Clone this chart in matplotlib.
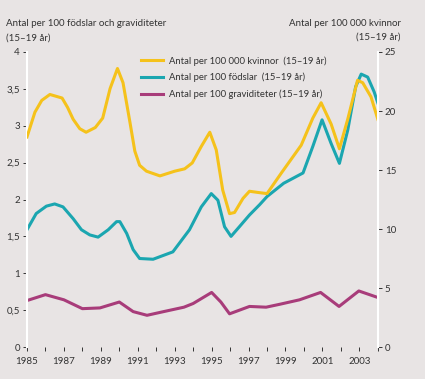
import matplotlib
matplotlib.use("Agg")
import matplotlib.pyplot as plt

# data
yr_kv = [1985.0, 1985.43, 1985.8, 1986.24, 1986.9, 1987.2, 1987.5, 1987.86, 1988.2, 1988.7,
         1989.1, 1989.5, 1989.9, 1990.2, 1990.57, 1990.84, 1991.1, 1991.47, 1992.2, 1993.0,
         1993.54, 1993.95, 1994.44, 1994.9, 1995.25, 1995.6, 1995.97, 1996.24, 1996.7, 1997.05,
         1997.5, 1998.0, 1998.8, 1999.85, 2000.48, 2000.93, 2001.47, 2001.92, 2002.37, 2002.9,
         2003.18, 2003.63, 2004.0]
kvinnor = [17.8, 19.9, 20.9, 21.4, 21.1, 20.3, 19.3, 18.5, 18.2, 18.6,
           19.4, 21.9, 23.6, 22.4, 19.1, 16.6, 15.4, 14.9, 14.5, 14.9,
           15.1, 15.6, 17.0, 18.2, 16.7, 13.3, 11.3, 11.4, 12.6, 13.2,
           13.1, 13.0, 14.8, 17.1, 19.4, 20.7, 18.9, 16.8, 19.3, 22.6,
           22.4, 21.2, 19.3]

yr_fo = [1985.0, 1985.5, 1986.05, 1986.5, 1986.95, 1987.5, 1987.95, 1988.4, 1988.85, 1989.4,
         1989.85, 1990.03, 1990.4, 1990.75, 1991.1, 1991.83, 1992.9, 1993.8, 1994.44, 1994.98,
         1995.34, 1995.7, 1996.05, 1996.5, 1997.05, 1997.6, 1998.0, 1998.9, 1999.95, 2000.48,
         2000.98, 2001.47, 2001.92, 2002.37, 2002.8, 2003.1, 2003.45, 2003.8, 2004.0]
fodslar = [1.59, 1.81, 1.91, 1.94, 1.90, 1.74, 1.59, 1.52, 1.49, 1.59,
           1.70, 1.70, 1.54, 1.32, 1.20, 1.19, 1.29, 1.59, 1.90, 2.08,
           1.99, 1.63, 1.50, 1.63, 1.79, 1.93, 2.04, 2.22, 2.36, 2.72,
           3.08, 2.76, 2.49, 2.94, 3.53, 3.70, 3.66, 3.46, 3.31]

yr_gr = [1985.0, 1986.0, 1987.0, 1988.0, 1988.95, 1990.0, 1990.75, 1991.5, 1992.4, 1993.5,
         1994.0, 1995.0, 1995.5, 1995.97, 1997.05, 1997.95, 1998.7, 1999.76, 2000.9, 2001.9,
         2002.97, 2003.9]
graviditeter = [0.63, 0.71, 0.64, 0.52, 0.53, 0.61, 0.48, 0.43, 0.48, 0.54,
                0.59, 0.74, 0.61, 0.45, 0.55, 0.54, 0.58, 0.64, 0.74, 0.55,
                0.76, 0.68]

left_ticks = [0, 0.5, 1, 1.5, 2, 2.5, 3, 3.5, 4]
left_labels = ["0", "0,5", "1", "1,5", "2", "2,5", "3", "3,5", "4"]
right_ticks = [0, 5, 10, 15, 20, 25]
year_ticks = list(range(1985, 2005))
year_labels = [str(y) if y % 2 == 1 else "" for y in year_ticks]

plt.rcParams["font.family"] = ["Lato", "DejaVu Sans"]
plt.rcParams["font.size"] = 7

bg = "#e8e4e4"
txt = "#333333"
c_yel = "#f5c21b"
c_teal = "#1ba6b0"
c_mag = "#a83c7a"

fig = plt.figure(figsize=(4.25, 3.79), dpi=100)
fig.patch.set_facecolor(bg)
ax = fig.add_axes([0.0635, 0.0844, 0.8255, 0.7784])
ax.set_facecolor(bg)
ax2 = ax.twinx()

l1, = ax2.plot(yr_kv, kvinnor, color=c_yel, lw=2.2, solid_joinstyle="round",
               label="Antal per 100 000 kvinnor  (15\u201319 år)")
l2, = ax.plot(yr_fo, fodslar, color=c_teal, lw=2.2, solid_joinstyle="round",
              label="Antal per 100 födslar  (15\u201319 år)")
l3, = ax.plot(yr_gr, graviditeter, color=c_mag, lw=2.2, solid_joinstyle="round",
              label="Antal per 100 graviditeter (15\u201319 år)")

ax.set_xlim(1985, 2004)
ax.set_ylim(0, 4)
ax2.set_ylim(0, 25)
ax.set_yticks(left_ticks)
ax.set_yticklabels(left_labels)
ax2.set_yticks(right_ticks)
ax.set_xticks(year_ticks)
ax.set_xticklabels(year_labels)

for a in (ax, ax2):
    for s in ("top", "bottom"):
        a.spines[s].set_visible(False)
    a.spines["left"].set_color("white")
    a.spines["right"].set_color("white")
    a.spines["left"].set_linewidth(1.5)
    a.spines["right"].set_linewidth(1.5)
    a.tick_params(colors=txt, length=3, width=0.7, pad=2, labelsize=7)
ax.tick_params(axis="x", pad=4)
ax2.spines["left"].set_visible(False)
ax.spines["right"].set_visible(False)

fig.text(6 / 425, 1 - 24 / 379, "Antal per 100 födslar och graviditeter", color=txt,
         fontsize=7, ha="left", va="center")
fig.text(6 / 425, 1 - 38 / 379, "(15\u201319 år)", color=txt, fontsize=7,
         ha="left", va="center")
fig.text(401 / 425, 1 - 23 / 379, "Antal per 100 000 kvinnor", color=txt,
         fontsize=7, ha="right", va="center")
fig.text(401 / 425, 1 - 37 / 379, "(15\u201319 år)", color=txt, fontsize=7,
         ha="right", va="center")

leg = ax.legend(handles=[l1, l2, l3], loc="upper left", bbox_to_anchor=(0.30, 1.015),
                frameon=False, fontsize=6.8, handlelength=2.4, labelspacing=0.75,
                handletextpad=0.6, labelcolor=txt)

fig.savefig("out.png", dpi=100, facecolor=bg)
